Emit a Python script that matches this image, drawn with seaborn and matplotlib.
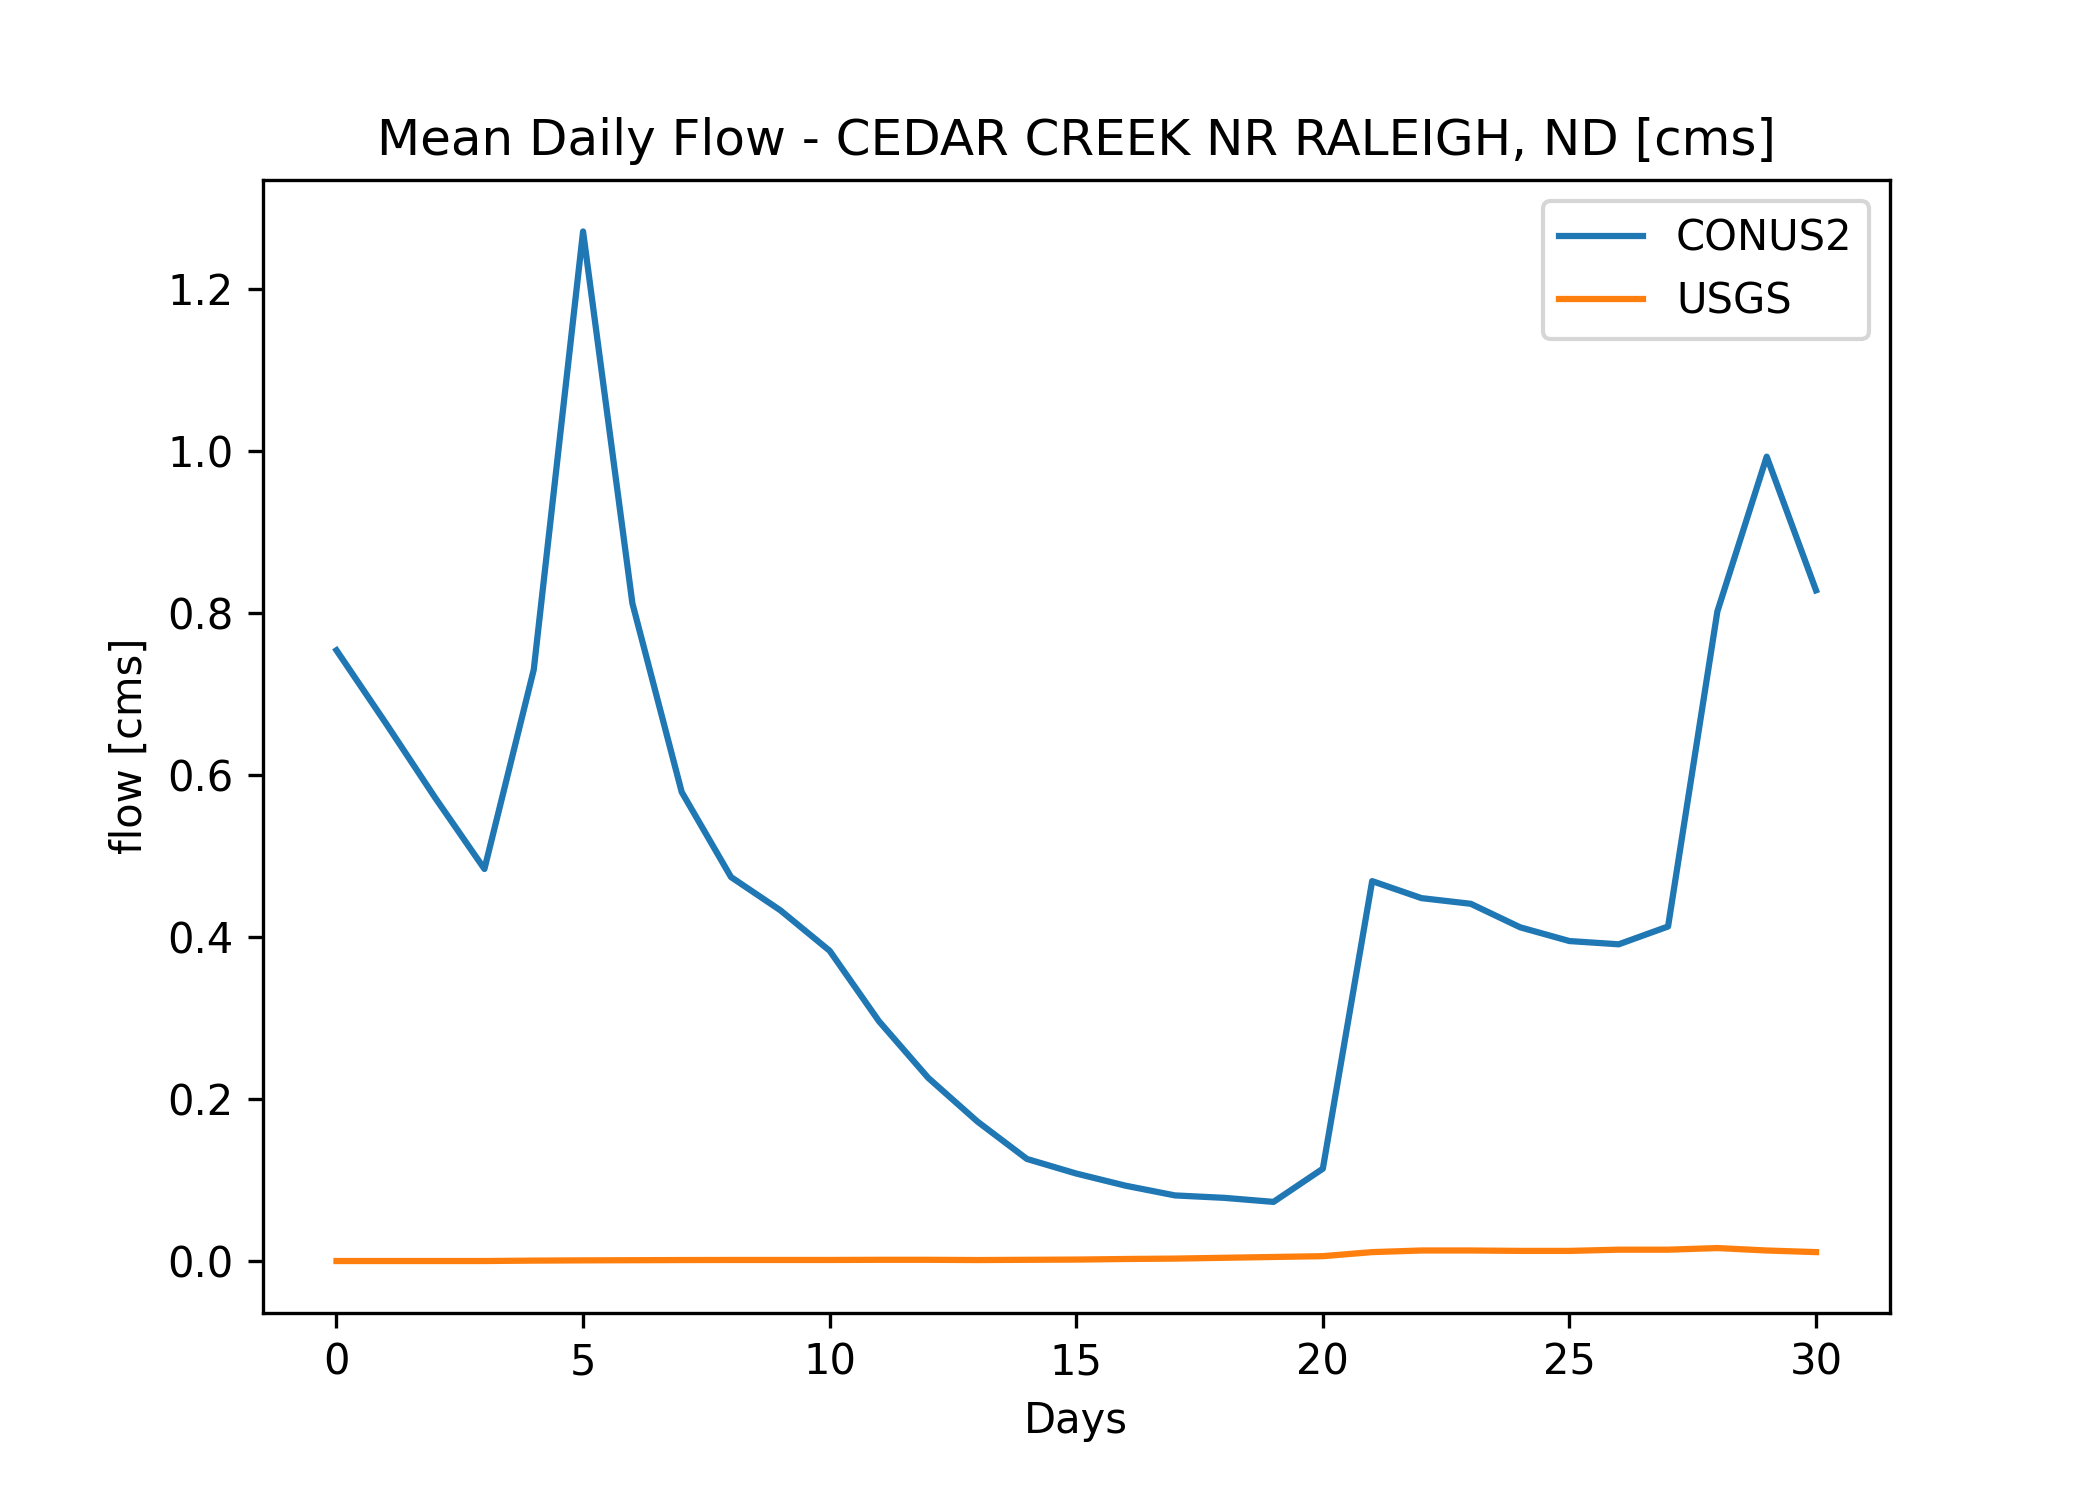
import matplotlib
matplotlib.use("Agg")
import matplotlib.pyplot as plt
import seaborn as sns
import numpy as np

days = list(range(31))
conus2 = [0.754, 0.664, 0.572, 0.484, 0.730, 1.271, 0.812, 0.579, 0.474, 0.433,
          0.383, 0.296, 0.226, 0.172, 0.126, 0.108, 0.093, 0.081, 0.078, 0.073,
          0.114, 0.469, 0.448, 0.441, 0.412, 0.395, 0.391, 0.413, 0.802, 0.993,
          0.828]
usgs = [0.0, 0.0, 0.0, 0.0, 0.0005, 0.0008, 0.001, 0.0012, 0.0013, 0.0013,
        0.0013, 0.0015, 0.0015, 0.0012, 0.0015, 0.0018, 0.0025, 0.003, 0.004, 0.005,
        0.006, 0.011, 0.013, 0.013, 0.0125, 0.0125, 0.014, 0.014, 0.016, 0.013,
        0.011]

fig, ax = plt.subplots(figsize=(7, 5), dpi=300)
fig.subplots_adjust(left=0.125, right=0.9, bottom=0.125, top=0.88)
sns.lineplot(x=days, y=conus2, label="CONUS2", ax=ax, color="tab:blue")
sns.lineplot(x=days, y=usgs, label="USGS", ax=ax, color="tab:orange")
ax.set_title("Mean Daily Flow - CEDAR CREEK NR RALEIGH, ND [cms]")
ax.set_xlabel("Days")
ax.set_ylabel("flow [cms]")
ax.legend(loc="upper right")
fig.savefig("out.png", dpi=300)
